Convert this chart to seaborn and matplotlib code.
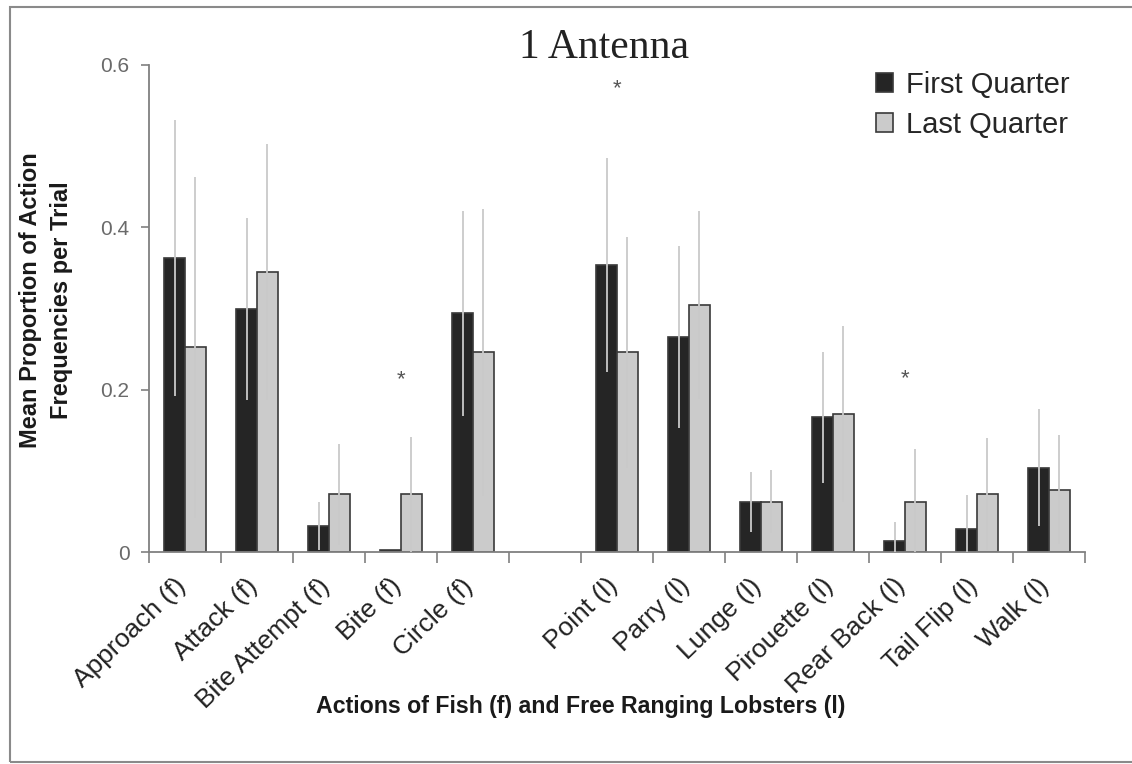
import numpy as np
import pandas as pd
import matplotlib
matplotlib.use("Agg")
import matplotlib.pyplot as plt
from matplotlib.patches import Rectangle
from matplotlib.transforms import ScaledTranslation
import seaborn as sns

# ---------------- data ----------------
fish_actions = ["Approach (f)", "Attack (f)", "Bite Attempt (f)", "Bite (f)", "Circle (f)"]
lobster_actions = ["Point (l)", "Parry (l)", "Lunge (l)", "Pirouette (l)",
                   "Rear Back (l)", "Tail Flip (l)", "Walk (l)"]
actions = fish_actions + lobster_actions
quarters = ["First Quarter", "Last Quarter"]

first_quarter = [0.362, 0.299, 0.032, 0.002, 0.294,
                 0.354, 0.265, 0.062, 0.166, 0.013, 0.028, 0.104]
last_quarter = [0.252, 0.345, 0.071, 0.071, 0.246,
                0.246, 0.304, 0.062, 0.170, 0.062, 0.071, 0.077]
first_err = [0.170, 0.112, 0.030, 0.000, 0.126,
             0.132, 0.112, 0.037, 0.081, 0.024, 0.042, 0.072]
last_err = [0.210, 0.158, 0.062, 0.071, 0.177,
            0.142, 0.116, 0.039, 0.109, 0.065, 0.069, 0.067]

significant_actions = ["Bite (f)", "Point (l)", "Rear Back (l)"]
significant_marks = [0.212, 0.571, 0.213]

y_ticks = [0, 0.2, 0.4, 0.6]
y_tick_labels = ["0", "0.2", "0.4", "0.6"]

# ---------------- style ----------------
sns.set_style("white")
plt.rcParams["font.family"] = ["Liberation Sans", "DejaVu Sans"]

W, H = 1132, 764
fig = plt.figure(figsize=(W / 100, H / 100), dpi=100)
ax = fig.add_axes([149 / W, 1 - 552 / H, (1085 - 149) / W, (552 - 65) / H])

df = pd.DataFrame({
    "action": actions * 2,
    "quarter": [quarters[0]] * len(actions) + [quarters[1]] * len(actions),
    "value": first_quarter + last_quarter,
})
order = fish_actions + [" "] + lobster_actions

sns.barplot(data=df, x="action", y="value", hue="quarter", order=order,
            hue_order=quarters,
            palette={quarters[0]: "#252525", quarters[1]: "#cbcbcb"},
            width=0.58, gap=0, errorbar=None, saturation=1,
            edgecolor="#3a3a3a", linewidth=1.2, ax=ax)

# error bars (light grey, no caps)
err_map = {}
for a, e1, e2 in zip(actions, first_err, last_err):
    err_map[(a, quarters[0])] = e1
    err_map[(a, quarters[1])] = e2
for cont, q in zip(ax.containers, quarters):
    for patch in cont:
        xc = patch.get_x() + patch.get_width() / 2
        h = patch.get_height()
        if np.isnan(h):
            continue
        a = order[int(round(xc))]
        e = err_map.get((a, q), 0)
        if e > 0:
            ax.vlines(xc, h - e, h + e, color="#c9c9c9", lw=1.3, zorder=5)

# significance asterisks
for a, yv in zip(significant_actions, significant_marks):
    ax.text(order.index(a), yv, "*", ha="center", va="center",
            fontsize=16, color="#555555", zorder=6)

# axes formatting
ax.set_xlim(-0.5, len(order) - 0.5)
ax.set_ylim(0, 0.6)
ax.set_yticks(y_ticks)
ax.set_yticklabels(y_tick_labels)
ax.tick_params(axis="y", length=6, width=1.2, color="#808080", pad=8,
               labelsize=15, labelcolor="#6a6a6a", left=True)

ax.set_xticks(range(len(order)))
ax.set_xticklabels(order, rotation=44, ha="right", va="center",
                   rotation_mode="anchor", fontsize=19, color="#222222")
ax.tick_params(axis="x", which="major", length=0, pad=22)
shift = ScaledTranslation(-3 / 100, 0, fig.dpi_scale_trans)
for lab in ax.get_xticklabels():
    lab.set_transform(lab.get_transform() + shift)
ax.set_xticks(np.arange(-0.5, len(order), 1), minor=True)
ax.tick_params(axis="x", which="minor", length=8, width=1.2,
               color="#808080", bottom=True, direction="out")

for s in ["top", "right"]:
    ax.spines[s].set_visible(False)
for s in ["left", "bottom"]:
    ax.spines[s].set_color("#808080")
    ax.spines[s].set_linewidth(1.3)

ax.set_xlabel("")
ax.set_ylabel("")

# legend
handles, labels = ax.get_legend_handles_labels()
if ax.get_legend() is not None:
    ax.get_legend().remove()
fig.legend(handles, labels, loc="upper left",
           bbox_to_anchor=(864 / W, 1 - 59 / H), frameon=False,
           fontsize=21, handlelength=0.6, handleheight=0.6,
           handletextpad=0.45, labelspacing=0.42, borderaxespad=0)

# title and labels
fig.text(604 / W, 1 - 48 / H, "1 Antenna", ha="center", va="center",
         fontsize=30, family=["Liberation Serif", "DejaVu Serif"], color="#222222")
fig.text(46 / W, 1 - 300 / H, "Mean Proportion of Action\nFrequencies per Trial",
         rotation=90, ha="center", va="center", fontsize=17,
         fontweight="bold", linespacing=1.45, color="#1a1a1a")
fig.text(581 / W, 1 - 707 / H, "Actions of Fish (f) and Free Ranging Lobsters (l)",
         ha="center", va="center", fontsize=16.7, fontweight="bold", color="#1a1a1a")

# outer frame
fig.add_artist(Rectangle((10 / W, 2 / H), 1.2, 1 - 7 / H - 2 / H,
                         transform=fig.transFigure, fill=False,
                         edgecolor="#8a8a8a", lw=1.5, clip_on=False))

fig.savefig("out.png", dpi=100)
